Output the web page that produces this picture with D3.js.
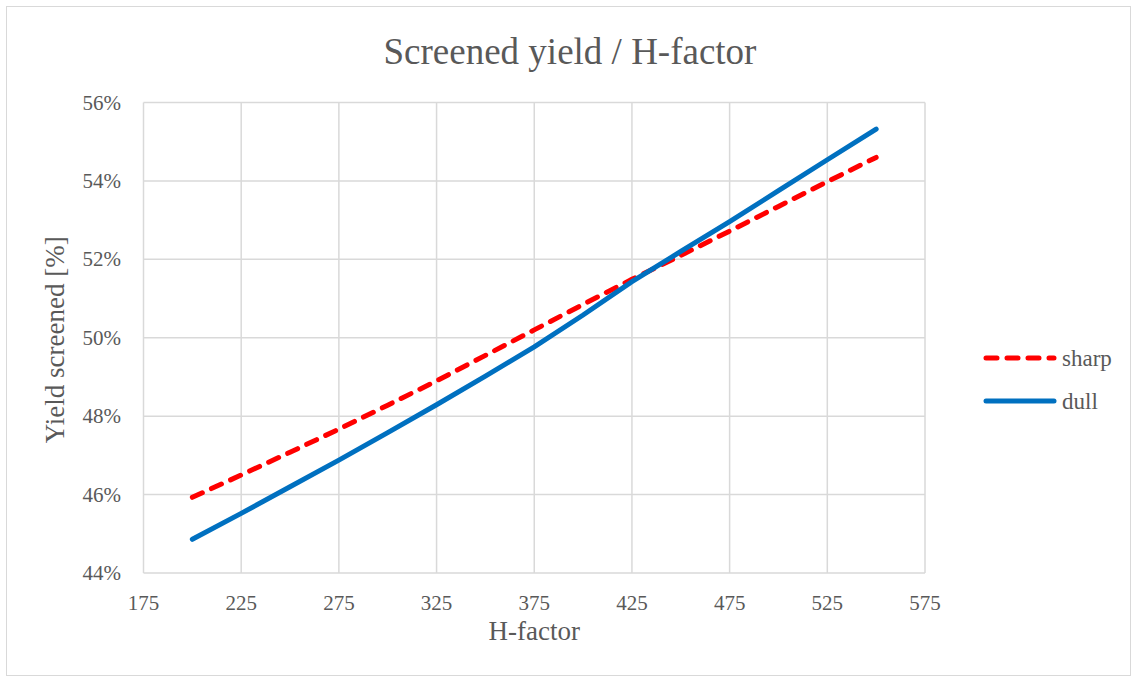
<!DOCTYPE html>
<html>
<head>
<meta charset="utf-8">
<script src="https://cdn.jsdelivr.net/npm/d3@7"></script>
<style>
  body { margin: 0; background: #fff; }
  text { font-family: "Liberation Serif", "DejaVu Serif", serif; fill: #595959; }
</style>
</head>
<body>
<svg></svg>
<script>
// H-factor values and yields (%)
const hFactor = [200, 225, 250, 275, 300, 325, 350, 375, 400, 425, 450, 475, 500, 525, 550];
const sharp = [45.93, 46.5, 47.08, 47.67, 48.28, 48.9, 49.55, 50.2, 50.85, 51.49, 52.1, 52.72, 53.35, 53.98, 54.6];
const dull = [44.86, 45.52, 46.2, 46.88, 47.58, 48.29, 49.02, 49.77, 50.58, 51.43, 52.2, 52.96, 53.75, 54.54, 55.32];
const xTicks = [175, 225, 275, 325, 375, 425, 475, 525, 575];
const yTicks = [44, 46, 48, 50, 52, 54, 56];

const width = 1137, height = 682;
const svg = d3.select("svg")
    .attr("width", width)
    .attr("height", height);

svg.append("rect")
    .attr("x", 6.5).attr("y", 6.5)
    .attr("width", width - 13).attr("height", height - 13)
    .attr("fill", "#fff")
    .attr("stroke", "#d9d9d9");

const x = d3.scaleLinear().domain([175, 575]).range([143.5, 925]);
const y = d3.scaleLinear().domain([44, 56]).range([573, 102.5]);

// grid
svg.append("g").selectAll("line")
    .data(xTicks)
    .join("line")
    .attr("x1", d => x(d)).attr("x2", d => x(d))
    .attr("y1", y(56)).attr("y2", y(44))
    .attr("stroke", "#d9d9d9").attr("stroke-width", 1.5);

svg.append("g").selectAll("line")
    .data(yTicks)
    .join("line")
    .attr("x1", x(175)).attr("x2", x(575))
    .attr("y1", d => y(d)).attr("y2", d => y(d))
    .attr("stroke", "#d9d9d9").attr("stroke-width", 1.5);

// tick labels
svg.append("g").selectAll("text")
    .data(xTicks)
    .join("text")
    .attr("x", d => x(d))
    .attr("y", 610)
    .attr("text-anchor", "middle")
    .attr("font-size", 21)
    .text(d => d);

svg.append("g").selectAll("text")
    .data(yTicks)
    .join("text")
    .attr("x", 121)
    .attr("y", d => y(d) + 7)
    .attr("text-anchor", "end")
    .attr("font-size", 21)
    .text(d => d + "%");

// titles
svg.append("text")
    .attr("x", 570).attr("y", 64)
    .attr("text-anchor", "middle")
    .attr("font-size", 37)
    .text("Screened yield / H-factor");

svg.append("text")
    .attr("x", x(375)).attr("y", 640)
    .attr("text-anchor", "middle")
    .attr("font-size", 27)
    .text("H-factor");

svg.append("text")
    .attr("transform", "translate(64," + (y(50) + 2) + ") rotate(-90)")
    .attr("text-anchor", "middle")
    .attr("font-size", 27)
    .text("Yield screened [%]");

// lines
const line = d3.line()
    .x(d => x(d[0]))
    .y(d => y(d[1]));

const series = [
    { name: "sharp", values: sharp, color: "#ff0000", dash: "11 10" },
    { name: "dull", values: dull, color: "#0070c0", dash: null }
];

series.forEach(function(s) {
    svg.append("path")
        .datum(hFactor.map((h, i) => [h, s.values[i]]))
        .attr("fill", "none")
        .attr("stroke", s.color)
        .attr("stroke-width", 5)
        .attr("stroke-linecap", "round")
        .attr("stroke-dasharray", s.dash)
        .attr("d", line);
});

// legend
const legend = svg.append("g").selectAll("g")
    .data(series)
    .join("g")
    .attr("transform", (d, i) => "translate(986," + (358 + i * 43) + ")");

legend.append("line")
    .attr("x1", 0).attr("x2", 68)
    .attr("stroke", d => d.color)
    .attr("stroke-width", 5)
    .attr("stroke-linecap", "round")
    .attr("stroke-dasharray", d => d.dash);

legend.append("text")
    .attr("x", 76).attr("y", 8)
    .attr("font-size", 23)
    .text(d => d.name);
</script>
</body>
</html>
